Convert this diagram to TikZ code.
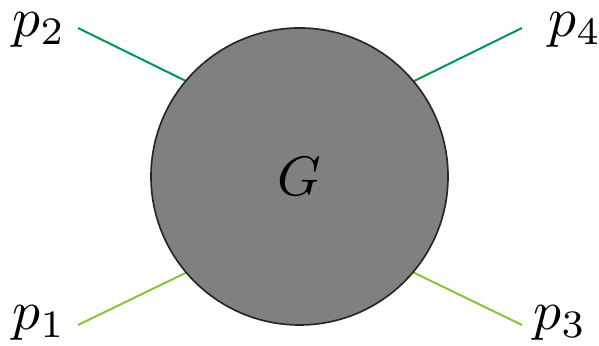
\documentclass[tikz,border=0pt]{standalone}
\usepackage{tikz}
\definecolor{darkgr}{RGB}{0,152,78}
\definecolor{lightgr}{RGB}{135,196,55}
\definecolor{blobgray}{RGB}{128,128,128}
\begin{document}
\begin{tikzpicture}[x=0.18pt,y=-0.18pt,
  leg/.style={line width=0.36pt},
  blob/.style={circle,draw=black!85,line width=0.3pt,fill=blobgray,minimum size=297*0.18pt,inner sep=0pt},
  lab/.style={inner sep=0pt}]
\useasboundingbox (0,0) rectangle (599,346);
\coordinate (e2) at (78,28);
\coordinate (e4) at (522,28);
\coordinate (e1) at (78,325);
\coordinate (e3) at (522,325);
\coordinate (c2) at (200,88);
\coordinate (c4) at (400,88);
\coordinate (c1) at (200,266);
\coordinate (c3) at (400,266);
\draw[leg,darkgr] (e2) -- (c2);
\draw[leg,darkgr] (e4) -- (c4);
\draw[leg,lightgr] (e1) -- (c1);
\draw[leg,lightgr] (e3) -- (c3);
\node[blob] (G) at (299.5,176.5) {$G$};
\node[lab] (p2) at (39,30) {$p_2$};
\node[lab] (p4) at (575,30) {$p_4$};
\node[lab] (p1) at (39,323) {$p_1$};
\node[lab] (p3) at (560,323) {$p_3$};
\end{tikzpicture}
\end{document}
